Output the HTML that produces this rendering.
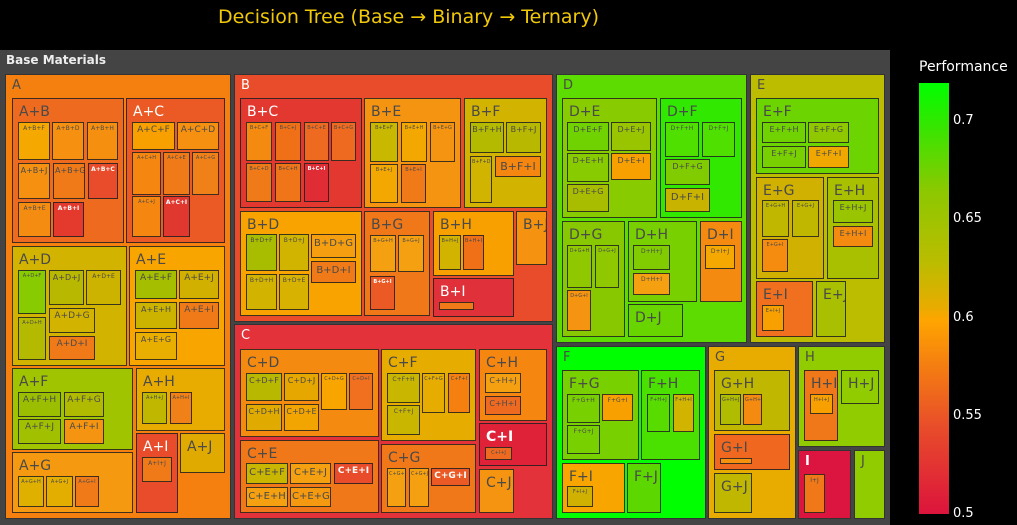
<!DOCTYPE html>
<html><head><meta charset="utf-8"><style>
body{margin:0;background:#000;width:1017px;height:525px;overflow:hidden;position:relative;font-family:"DejaVu Sans","Liberation Sans",sans-serif}
.b{position:absolute;box-sizing:border-box;border:1px solid rgba(30,30,30,.85);color:#4a4a4a;overflow:hidden;white-space:nowrap;font-size:8px;padding:3px 1px;line-height:1.1;text-align:center}
.l1{font-size:13px;padding:4px 6px;border-color:#333;text-align:left}
.l2{font-size:14px;padding:6px 6px;text-align:left}
.m{font-size:11px;padding-top:4px}
.t{font-size:5px}
.s{font-size:6px}
.w{color:#fff;font-weight:bold}
.w1{color:#fff}
</style></head><body>
<div style="position:absolute;left:0;top:6px;width:817px;text-align:center;color:#f0c808;font-size:19px">Decision Tree (Base → Binary → Ternary)</div>
<div style="position:absolute;left:0;top:50px;width:890px;height:475px;background:#444"></div>
<div style="position:absolute;left:6px;top:53px;color:#eee;font-size:12px;font-weight:bold">Base Materials</div>

<!-- A -->
<div class="b l1" style="left:5px;top:74px;width:226px;height:445px;background:#f5800f">A</div>
<div class="b l2" style="left:12px;top:98px;width:112px;height:145px;background:#ee6a1f">A+B</div>
<div class="b s" style="left:18px;top:122px;width:32px;height:38px;background:#f5a800">A+B+F</div>
<div class="b s" style="left:52px;top:122px;width:32px;height:38px;background:#f59010">A+B+D</div>
<div class="b s" style="left:87px;top:122px;width:31px;height:38px;background:#f58f10">A+B+H</div>
<div class="b" style="left:18px;top:163px;width:32px;height:36px;background:#f59010">A+B+J</div>
<div class="b" style="left:53px;top:163px;width:32px;height:36px;background:#f07a18">A+B+G</div>
<div class="b w s" style="left:88px;top:163px;width:30px;height:36px;background:#e84c2a">A+B+C</div>
<div class="b s" style="left:18px;top:202px;width:33px;height:35px;background:#f58c12">A+B+E</div>
<div class="b w s" style="left:53px;top:202px;width:31px;height:35px;background:#e43a2d">A+B+I</div>
<div class="b l2 w1" style="left:126px;top:98px;width:99px;height:145px;background:#eb5a24">A+C</div>
<div class="b" style="left:132px;top:122px;width:43px;height:28px;background:#f8a000;font-size:9px">A+C+F</div>
<div class="b" style="left:177px;top:122px;width:42px;height:28px;background:#f59010;font-size:9px">A+C+D</div>
<div class="b t" style="left:132px;top:152px;width:29px;height:43px;background:#f5860f">A+C+H</div>
<div class="b t" style="left:163px;top:152px;width:27px;height:43px;background:#f07a18">A+C+E</div>
<div class="b t" style="left:192px;top:152px;width:27px;height:43px;background:#f08018">A+C+G</div>
<div class="b t" style="left:132px;top:196px;width:29px;height:41px;background:#f5860f">A+C+J</div>
<div class="b w s" style="left:163px;top:196px;width:27px;height:41px;background:#e0372f">A+C+I</div>
<div class="b l2" style="left:12px;top:246px;width:115px;height:120px;background:#d2b400">A+D</div>
<div class="b t" style="left:18px;top:270px;width:28px;height:44px;background:#88cc00">A+D+F</div>
<div class="b" style="left:49px;top:270px;width:35px;height:35px;background:#b9b800">A+D+J</div>
<div class="b s" style="left:86px;top:270px;width:35px;height:35px;background:#cbb300">A+D+E</div>
<div class="b t" style="left:18px;top:317px;width:28px;height:43px;background:#b3ba00">A+D+H</div>
<div class="b" style="left:49px;top:308px;width:46px;height:25px;background:#d2b400;font-size:9px">A+D+G</div>
<div class="b" style="left:49px;top:336px;width:46px;height:24px;background:#f07a18;font-size:9px">A+D+I</div>
<div class="b l2" style="left:129px;top:246px;width:96px;height:120px;background:#f8a500">A+E</div>
<div class="b" style="left:135px;top:270px;width:42px;height:29px;background:#a5bf00;font-size:9px">A+E+F</div>
<div class="b" style="left:179px;top:270px;width:40px;height:29px;background:#d2b000;font-size:9px">A+E+J</div>
<div class="b" style="left:135px;top:302px;width:42px;height:27px;background:#cbb300">A+E+H</div>
<div class="b" style="left:179px;top:302px;width:40px;height:27px;background:#f07a18;font-size:9px">A+E+I</div>
<div class="b" style="left:135px;top:332px;width:42px;height:28px;background:#e8ae00">A+E+G</div>
<div class="b l2" style="left:12px;top:368px;width:121px;height:82px;background:#a0c400">A+F</div>
<div class="b" style="left:18px;top:392px;width:43px;height:25px;background:#9bbf00;font-size:9px">A+F+H</div>
<div class="b" style="left:64px;top:392px;width:40px;height:25px;background:#b0bb00;font-size:9px">A+F+G</div>
<div class="b" style="left:18px;top:419px;width:43px;height:25px;background:#a0c000;font-size:9px">A+F+J</div>
<div class="b" style="left:64px;top:419px;width:40px;height:25px;background:#f59410;font-size:9px">A+F+I</div>
<div class="b l2" style="left:136px;top:368px;width:89px;height:63px;background:#e8ac00">A+H</div>
<div class="b t" style="left:142px;top:392px;width:25px;height:32px;background:#c0b800">A+H+J</div>
<div class="b t" style="left:170px;top:392px;width:22px;height:32px;background:#f08018">A+H+I</div>
<div class="b l2" style="left:12px;top:452px;width:121px;height:61px;background:#f59a10">A+G</div>
<div class="b t" style="left:18px;top:476px;width:26px;height:31px;background:#e0b000">A+G+H</div>
<div class="b t" style="left:46px;top:476px;width:27px;height:31px;background:#e4ae00">A+G+J</div>
<div class="b t" style="left:75px;top:476px;width:24px;height:31px;background:#f07a18">A+G+I</div>
<div class="b l2 w1" style="left:136px;top:433px;width:42px;height:80px;background:#e84c2a">A+I</div>
<div class="b s" style="left:142px;top:457px;width:30px;height:25px;background:#f07a18">A+I+J</div>
<div class="b l2" style="left:180px;top:433px;width:45px;height:40px;background:#e0aa00">A+J</div>

<!-- B -->
<div class="b l1 w1" style="left:234px;top:74px;width:319px;height:248px;background:#e84c2a">B</div>
<div class="b l2 w1" style="left:240px;top:98px;width:122px;height:110px;background:#e3382f">B+C</div>
<div class="b t" style="left:246px;top:122px;width:26px;height:39px;background:#f58a10">B+C+F</div>
<div class="b t" style="left:275px;top:122px;width:26px;height:39px;background:#f07018">B+C+J</div>
<div class="b t" style="left:304px;top:122px;width:25px;height:39px;background:#ee6a20">B+C+E</div>
<div class="b t" style="left:331px;top:122px;width:25px;height:39px;background:#ee6a20">B+C+G</div>
<div class="b t" style="left:246px;top:163px;width:26px;height:39px;background:#f07a18">B+C+D</div>
<div class="b t" style="left:275px;top:163px;width:26px;height:39px;background:#f07418">B+C+H</div>
<div class="b t w" style="left:304px;top:163px;width:25px;height:39px;background:#e02c35">B+C+I</div>
<div class="b l2" style="left:364px;top:98px;width:97px;height:110px;background:#f59410">B+E</div>
<div class="b t" style="left:370px;top:122px;width:28px;height:40px;background:#c8b800">B+E+F</div>
<div class="b t" style="left:401px;top:122px;width:26px;height:40px;background:#f2a800">B+E+H</div>
<div class="b t" style="left:430px;top:122px;width:25px;height:40px;background:#f59410">B+E+G</div>
<div class="b t" style="left:370px;top:164px;width:28px;height:39px;background:#f2a800">B+E+J</div>
<div class="b t" style="left:401px;top:164px;width:25px;height:39px;background:#f07a18">B+E+I</div>
<div class="b l2" style="left:464px;top:98px;width:83px;height:110px;background:#d2b400">B+F</div>
<div class="b" style="left:470px;top:122px;width:34px;height:31px;background:#b3ba00">B+F+H</div>
<div class="b" style="left:506px;top:122px;width:35px;height:31px;background:#b8b800">B+F+J</div>
<div class="b t" style="left:470px;top:156px;width:22px;height:47px;background:#d0b400">B+F+D</div>
<div class="b m" style="left:495px;top:156px;width:46px;height:21px;background:#f5860f">B+F+I</div>
<div class="b l2" style="left:240px;top:211px;width:122px;height:105px;background:#f8a300">B+D</div>
<div class="b s" style="left:246px;top:234px;width:31px;height:37px;background:#a8bc00">B+D+F</div>
<div class="b s" style="left:279px;top:234px;width:30px;height:37px;background:#d0b400">B+D+J</div>
<div class="b" style="left:311px;top:234px;width:45px;height:24px;background:#f59f10;font-size:10px">B+D+G</div>
<div class="b" style="left:311px;top:261px;width:45px;height:22px;background:#f07a18;font-size:10px">B+D+I</div>
<div class="b s" style="left:246px;top:274px;width:31px;height:36px;background:#d2b400">B+D+H</div>
<div class="b s" style="left:279px;top:274px;width:30px;height:36px;background:#d8b200">B+D+E</div>
<div class="b l2" style="left:364px;top:211px;width:66px;height:105px;background:#f07818">B+G</div>
<div class="b t" style="left:370px;top:235px;width:26px;height:37px;background:#f5a010">B+G+H</div>
<div class="b t" style="left:398px;top:235px;width:26px;height:37px;background:#f5a010">B+G+J</div>
<div class="b t w" style="left:370px;top:276px;width:25px;height:34px;background:#eb5a24">B+G+I</div>
<div class="b l2" style="left:433px;top:211px;width:81px;height:65px;background:#f8a000">B+H</div>
<div class="b t" style="left:439px;top:235px;width:22px;height:35px;background:#d2b400">B+H+J</div>
<div class="b t" style="left:463px;top:235px;width:21px;height:35px;background:#f07018">B+H+I</div>
<div class="b l2" style="left:516px;top:211px;width:31px;height:54px;background:#f5920f">B+J</div>
<div class="b l2 w1" style="left:433px;top:278px;width:81px;height:39px;background:#e0303a">B+I</div>
<div class="b" style="left:439px;top:302px;width:35px;height:8px;background:#f07a18;padding:0"></div>

<!-- C -->
<div class="b l1 w1" style="left:234px;top:324px;width:319px;height:195px;background:#e3323a">C</div>
<div class="b l2" style="left:240px;top:349px;width:139px;height:88px;background:#f58a10">C+D</div>
<div class="b" style="left:246px;top:373px;width:36px;height:28px;background:#b8b800">C+D+F</div>
<div class="b" style="left:284px;top:373px;width:35px;height:28px;background:#e6a800">C+D+J</div>
<div class="b t" style="left:321px;top:373px;width:26px;height:37px;background:#f8a500">C+D+G</div>
<div class="b t" style="left:349px;top:373px;width:24px;height:37px;background:#f07020">C+D+I</div>
<div class="b" style="left:246px;top:404px;width:36px;height:27px;background:#e0aa00">C+D+H</div>
<div class="b" style="left:284px;top:404px;width:35px;height:27px;background:#f2a400">C+D+E</div>
<div class="b l2" style="left:381px;top:349px;width:95px;height:92px;background:#e6ac00">C+F</div>
<div class="b s" style="left:387px;top:373px;width:33px;height:30px;background:#c8b600">C+F+H</div>
<div class="b t" style="left:422px;top:373px;width:23px;height:40px;background:#e6ac00">C+F+G</div>
<div class="b t" style="left:448px;top:373px;width:22px;height:40px;background:#f5800f">C+F+I</div>
<div class="b s" style="left:387px;top:405px;width:33px;height:30px;background:#c8b600">C+F+J</div>
<div class="b l2" style="left:479px;top:349px;width:68px;height:72px;background:#f5860f">C+H</div>
<div class="b" style="left:485px;top:373px;width:36px;height:20px;background:#f5a010">C+H+J</div>
<div class="b" style="left:485px;top:396px;width:36px;height:19px;background:#ee6a20">C+H+I</div>
<div class="b l2 w" style="left:479px;top:423px;width:68px;height:43px;background:#e02238">C+I</div>
<div class="b t" style="left:485px;top:447px;width:27px;height:13px;background:#ee6a20">C+I+J</div>
<div class="b l2" style="left:240px;top:440px;width:139px;height:73px;background:#f07818">C+E</div>
<div class="b" style="left:246px;top:463px;width:42px;height:21px;background:#c8b600;font-size:10px">C+E+F</div>
<div class="b" style="left:290px;top:463px;width:41px;height:21px;background:#f5a010;font-size:10px">C+E+J</div>
<div class="b w" style="left:334px;top:463px;width:39px;height:21px;background:#e84c2a;font-size:9px">C+E+I</div>
<div class="b" style="left:246px;top:487px;width:42px;height:20px;background:#f5a010;font-size:10px">C+E+H</div>
<div class="b" style="left:290px;top:487px;width:41px;height:20px;background:#f59a10;font-size:10px">C+E+G</div>
<div class="b l2" style="left:381px;top:444px;width:95px;height:69px;background:#f07818">C+G</div>
<div class="b t" style="left:387px;top:468px;width:19px;height:39px;background:#f5a010">C+G+H</div>
<div class="b t" style="left:409px;top:468px;width:20px;height:39px;background:#f5a010">C+G+J</div>
<div class="b w" style="left:431px;top:468px;width:39px;height:18px;background:#eb5a24;font-size:9px">C+G+I</div>
<div class="b l2" style="left:479px;top:469px;width:35px;height:44px;background:#f59410">C+J</div>

<!-- D -->
<div class="b l1" style="left:556px;top:74px;width:191px;height:269px;background:#5cdc00">D</div>
<div class="b l2" style="left:562px;top:98px;width:95px;height:120px;background:#88cc00">D+E</div>
<div class="b" style="left:567px;top:122px;width:42px;height:29px;background:#70d200">D+E+F</div>
<div class="b" style="left:611px;top:122px;width:40px;height:29px;background:#98c400">D+E+J</div>
<div class="b" style="left:567px;top:153px;width:42px;height:29px;background:#88cc00">D+E+H</div>
<div class="b" style="left:611px;top:153px;width:40px;height:27px;background:#f8a000">D+E+I</div>
<div class="b" style="left:567px;top:184px;width:42px;height:28px;background:#a8bc00">D+E+G</div>
<div class="b l2" style="left:660px;top:98px;width:82px;height:120px;background:#30e800">D+F</div>
<div class="b s" style="left:665px;top:122px;width:34px;height:35px;background:#50e000">D+F+H</div>
<div class="b s" style="left:702px;top:122px;width:33px;height:35px;background:#50e000">D+F+J</div>
<div class="b" style="left:665px;top:159px;width:45px;height:26px;background:#80cc00">D+F+G</div>
<div class="b" style="left:665px;top:188px;width:45px;height:24px;background:#c8b400;font-size:10px">D+F+I</div>
<div class="b l2" style="left:562px;top:221px;width:63px;height:116px;background:#88c800">D+G</div>
<div class="b t" style="left:567px;top:245px;width:25px;height:43px;background:#90c800">D+G+H</div>
<div class="b t" style="left:595px;top:245px;width:24px;height:43px;background:#90c800">D+G+J</div>
<div class="b t" style="left:567px;top:290px;width:24px;height:41px;background:#f59410">D+G+I</div>
<div class="b l2" style="left:628px;top:221px;width:69px;height:81px;background:#78d000">D+H</div>
<div class="b s" style="left:633px;top:245px;width:37px;height:25px;background:#80cc00">D+H+J</div>
<div class="b s" style="left:633px;top:273px;width:37px;height:22px;background:#f5a010">D+H+I</div>
<div class="b l2" style="left:700px;top:221px;width:42px;height:81px;background:#f58a10">D+I</div>
<div class="b s" style="left:705px;top:245px;width:30px;height:24px;background:#f5a800">D+I+J</div>
<div class="b l2" style="left:628px;top:304px;width:55px;height:33px;background:#68d400">D+J</div>

<!-- E -->
<div class="b l1" style="left:750px;top:74px;width:135px;height:269px;background:#bcbc00">E</div>
<div class="b l2" style="left:756px;top:98px;width:123px;height:76px;background:#6cd400">E+F</div>
<div class="b" style="left:762px;top:122px;width:44px;height:21px;background:#70d200">E+F+H</div>
<div class="b" style="left:808px;top:122px;width:41px;height:21px;background:#90c800">E+F+G</div>
<div class="b" style="left:762px;top:146px;width:44px;height:22px;background:#78d000">E+F+J</div>
<div class="b" style="left:808px;top:146px;width:41px;height:22px;background:#f0a800">E+F+I</div>
<div class="b l2" style="left:756px;top:177px;width:68px;height:102px;background:#d0b000">E+G</div>
<div class="b t" style="left:762px;top:200px;width:27px;height:37px;background:#c0b800">E+G+H</div>
<div class="b t" style="left:792px;top:200px;width:27px;height:37px;background:#c0b800">E+G+J</div>
<div class="b t" style="left:762px;top:239px;width:26px;height:33px;background:#f58c10">E+G+I</div>
<div class="b l2" style="left:827px;top:177px;width:52px;height:102px;background:#a8c000">E+H</div>
<div class="b" style="left:833px;top:200px;width:40px;height:23px;background:#98c400">E+H+J</div>
<div class="b" style="left:833px;top:226px;width:40px;height:21px;background:#f58a10">E+H+I</div>
<div class="b l2" style="left:756px;top:281px;width:57px;height:56px;background:#f07020">E+I</div>
<div class="b t" style="left:762px;top:305px;width:22px;height:26px;background:#f8a000">E+I+J</div>
<div class="b l2" style="left:816px;top:281px;width:30px;height:56px;background:#a8c000">E+J</div>

<!-- F -->
<div class="b l1" style="left:556px;top:346px;width:150px;height:173px;background:#00ff00">F</div>
<div class="b l2" style="left:562px;top:370px;width:77px;height:90px;background:#78d000">F+G</div>
<div class="b s" style="left:567px;top:394px;width:33px;height:29px;background:#78d000">F+G+H</div>
<div class="b s" style="left:602px;top:394px;width:31px;height:27px;background:#f8a000">F+G+I</div>
<div class="b s" style="left:567px;top:425px;width:33px;height:29px;background:#78d000">F+G+J</div>
<div class="b l2" style="left:641px;top:370px;width:59px;height:90px;background:#4ae000">F+H</div>
<div class="b t" style="left:647px;top:394px;width:23px;height:38px;background:#58dc00">F+H+J</div>
<div class="b t" style="left:673px;top:394px;width:21px;height:38px;background:#d0b400">F+H+I</div>
<div class="b l2" style="left:562px;top:463px;width:63px;height:50px;background:#f8a500">F+I</div>
<div class="b t" style="left:567px;top:486px;width:26px;height:21px;background:#d0b000">F+I+J</div>
<div class="b l2" style="left:627px;top:463px;width:34px;height:50px;background:#5cd800">F+J</div>

<!-- G -->
<div class="b l1" style="left:708px;top:346px;width:88px;height:173px;background:#e8ac00">G</div>
<div class="b l2" style="left:714px;top:370px;width:76px;height:61px;background:#c0b800">G+H</div>
<div class="b t" style="left:720px;top:394px;width:21px;height:31px;background:#b0bc00">G+H+J</div>
<div class="b t" style="left:743px;top:394px;width:19px;height:31px;background:#f58a10">G+H+I</div>
<div class="b l2" style="left:714px;top:434px;width:76px;height:36px;background:#f06820">G+I</div>
<div class="b" style="left:720px;top:458px;width:32px;height:6px;background:#f59010;padding:0"></div>
<div class="b l2" style="left:714px;top:473px;width:38px;height:40px;background:#c0b800">G+J</div>

<!-- H I J -->
<div class="b l1" style="left:798px;top:346px;width:87px;height:101px;background:#90cc00">H</div>
<div class="b l2" style="left:804px;top:370px;width:34px;height:71px;background:#f07818">H+I</div>
<div class="b t" style="left:810px;top:394px;width:23px;height:20px;background:#f8a000">H+I+J</div>
<div class="b l2" style="left:841px;top:370px;width:38px;height:34px;background:#90cc00">H+J</div>
<div class="b l1 w" style="left:798px;top:450px;width:53px;height:69px;background:#dc1440">I</div>
<div class="b s" style="left:804px;top:474px;width:21px;height:39px;background:#f07818">I+J</div>
<div class="b l1" style="left:854px;top:450px;width:31px;height:69px;background:#90cc00">J</div>

<!-- colorbar -->
<div style="position:absolute;left:919px;top:59px;color:#fff;font-size:14px">Performance</div>
<div style="position:absolute;left:919px;top:83px;width:30px;height:431px;background:linear-gradient(to bottom,#00ff00 0%,#30e800 9%,#8cc800 25%,#bcbc00 42%,#e8ac00 52%,#ffa500 55%,#f58010 65%,#e84c2a 80%,#dc143c 100%)"></div>
<div style="position:absolute;left:953px;top:113px;color:#fff;font-size:13px">0.7</div>
<div style="position:absolute;left:953px;top:211px;color:#fff;font-size:13px">0.65</div>
<div style="position:absolute;left:953px;top:310px;color:#fff;font-size:13px">0.6</div>
<div style="position:absolute;left:953px;top:408px;color:#fff;font-size:13px">0.55</div>
<div style="position:absolute;left:953px;top:506px;color:#fff;font-size:13px">0.5</div>
</body></html>
